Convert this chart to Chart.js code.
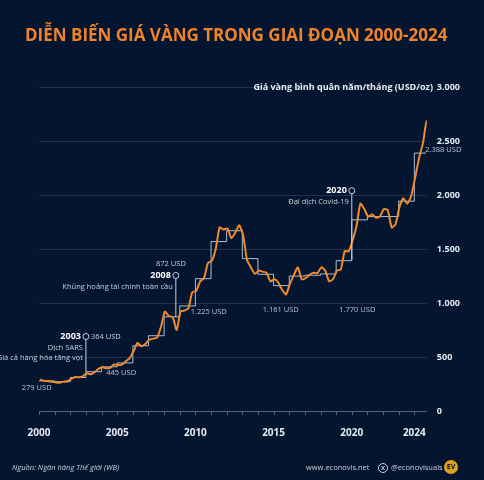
<!DOCTYPE html><html><head><meta charset="utf-8">
<script src="https://cdn.jsdelivr.net/npm/chart.js@4"></script>
<style>html,body{margin:0;background:#03152f}#w{width:484px;height:480px}</style></head><body><div id="w"><canvas id="c"></canvas></div>
<script>
const years=[2000,2001,2002,2003,2004,2005,2006,2007,2008,2009,2010,2011,2012,2013,2014,2015,2016,2017,2018,2019,2020,2021,2022,2023,2024];
const annual=[279,271,310,364,409,445,604,697,872,973,1225,1569,1669,1411,1266,1161,1249,1257,1269,1392,1770,1800,1801,1943,2388];
const quarterly=[290,280,277,270,265,262,272,276,295,315,312,320,350,340,360,390,405,395,400,430,425,430,460,490,555,630,600,620,660,670,680,780,920,880,870,750,920,930,950,1100,1110,1200,1230,1370,1390,1500,1700,1680,1690,1600,1650,1720,1630,1400,1330,1270,1300,1290,1280,1200,1220,1190,1120,1080,1180,1260,1330,1220,1230,1260,1280,1275,1330,1300,1200,1220,1300,1310,1480,1480,1580,1710,1920,1870,1800,1820,1790,1800,1870,1860,1700,1730,1890,1970,1920,1990,2160,2340,2480,2690,2650];
const xTicks=[2000,2005,2010,2015,2020,2024];
const yTicks=[0,500,1000,1500,2000,2500,3000];
const qPts=quarterly.map((v,i)=>({x:2000+i*0.25+0.05,y:v}));
const aPts=annual.map((v,i)=>({x:years[i],y:v}));aPts.push({x:2024.75,y:2388});
const fmt=v=>v.toLocaleString('de-DE');
const F='"Open Sans",sans-serif';
const notes=[
 {x:1998.9,y:279,t:'279 USD',dy:7},
 {x:2004.3,y:445,t:'445 USD',dy:10},
 {x:2009.7,y:1225,t:'1.225 USD',dy:33},
 {x:2014.3,y:1161,t:'1.161 USD',dy:24},
 {x:2019.2,y:1770,t:'1.770 USD',dy:90},
 {x:2024.7,y:2388,t:'2.388 USD',dy:-3},
];
const events=[
 {x:2003,yTop:690,yBot:364,yr:'2003',val:'364 USD',lines:['Dịch SARS','Giá cả hàng hóa tăng vọt']},
 {x:2008.75,yTop:1255,yBot:870,yr:'2008',val:'872 USD',valAbove:true,lines:['Khủng hoảng tài chính toàn cầu']},
 {x:2020,yTop:2040,yBot:1400,yr:'2020',val:null,lines:['Đại dịch Covid-19']},
];
const deco={id:'deco',
 beforeDraw(ch){const c=ch.ctx;c.save();c.fillStyle='#03152f';c.fillRect(0,0,ch.width,ch.height);c.restore();},
 afterDraw(ch){const c=ch.ctx,xs=ch.scales.x,ys=ch.scales.y;c.save();
  c.fillStyle='#f0832a';c.font='bold 17px '+F;c.textBaseline='middle';c.fillText('DIỄN BIẾN GIÁ VÀNG TRONG GIAI ĐOẠN 2000-2024',25,36);
  c.fillStyle='#e6ebf2';c.font='bold 9px '+F;c.textAlign='right';c.fillText('Giá vàng bình quân năm/tháng (USD/oz)',433,87);
  c.strokeStyle='#52627a';c.lineWidth=1;c.beginPath();c.moveTo(xs.left,ys.bottom+0.5);c.lineTo(xs.getPixelForValue(2024.8),ys.bottom+0.5);
  for(const y of years){const px=Math.round(xs.getPixelForValue(y))+0.5;c.moveTo(px,ys.bottom);c.lineTo(px,ys.bottom+4);}c.stroke();
  c.font='7.5px '+F;c.textAlign='left';c.fillStyle='#b9c3d2';
  for(const n of notes){c.fillText(n.t,xs.getPixelForValue(n.x),ys.getPixelForValue(n.y)+n.dy);}
  for(const e of events){const px=xs.getPixelForValue(e.x),pt=ys.getPixelForValue(e.yTop),pb=ys.getPixelForValue(e.yBot);
   c.strokeStyle='#c8d0dc';c.lineWidth=1;c.beginPath();c.moveTo(px,pt+3);c.lineTo(px,pb);c.stroke();
   c.beginPath();c.arc(px,pt,3,0,7);c.stroke();
   c.fillStyle='#ffffff';c.font='bold 9px '+F;c.textAlign='right';c.fillText(e.yr,px-5,pt);
   if(e.val){c.font='7.5px '+F;c.fillStyle='#c8d0dc';if(e.valAbove){c.textAlign='right';c.fillText(e.val,px+10,pt-12);}else{c.textAlign='left';c.fillText(e.val,px+5,pt);}}
   c.font='7.5px '+F;c.fillStyle='#c8d0dc';c.textAlign='right';e.lines.forEach((l,i)=>c.fillText(l,px-3,pt+11+i*10));}
  c.textAlign='left';c.font='italic 7.5px '+F;c.fillStyle='#c8d0dc';c.fillText('Nguồn: Ngân hàng Thế giới (WB)',12,468);
  c.font='7.5px '+F;c.fillText('www.econovis.net',306,468);c.fillText('@econovisuals',391,468);
  c.strokeStyle='#c8d0dc';c.beginPath();c.arc(383,468,4.5,0,7);c.stroke();c.font='bold 6px '+F;c.textAlign='center';c.fillText('X',383,468);
  c.fillStyle='#e0a21e';c.beginPath();c.arc(451,467,7,0,7);c.fill();c.fillStyle='#03152f';c.font='bold 7px '+F;c.fillText('EV',451,467);
  c.restore();}};
new Chart(document.getElementById('c'),{type:'line',
 data:{datasets:[
  {data:qPts,borderColor:'#f08a2c',borderWidth:2,pointRadius:0,tension:0.2,order:0},
  {data:aPts,borderColor:'#a9bfd8',borderWidth:1,pointRadius:0,stepped:'before',order:1}]},
 options:{responsive:true,maintainAspectRatio:false,animation:false,devicePixelRatio:1,
  layout:{padding:{top:87,left:39,right:14,bottom:33}},
  plugins:{legend:{display:false},tooltip:{enabled:false}},
  scales:{
   x:{type:'linear',min:2000,max:2024.8,afterBuildTicks:s=>{s.ticks=xTicks.map(v=>({value:v}));},
      grid:{display:false},border:{display:false},
      ticks:{color:'#e6ebf2',font:{family:F,size:10,weight:'bold'},padding:8,autoSkip:false,maxRotation:0,callback:v=>String(v)}},
   y:{position:'right',min:0,max:3000,afterBuildTicks:s=>{s.ticks=yTicks.map(v=>({value:v}));},
      grid:{color:'#1f3350',drawTicks:false},border:{display:false},
      ticks:{color:'#e6ebf2',font:{family:F,size:9,weight:'bold'},padding:10,callback:v=>fmt(v)}}}},
 plugins:[deco]});
</script></body></html>
